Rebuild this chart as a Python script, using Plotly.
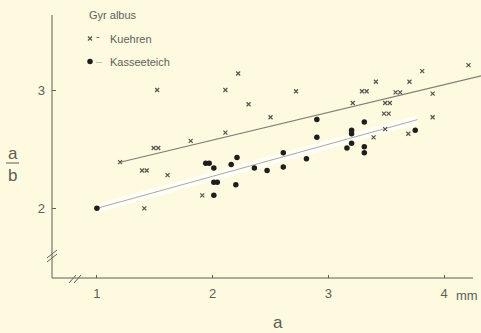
import plotly.graph_objects as go

# Gyr albus: ratio a/b against length a (mm)
kuehren_a = [1.52, 2.11, 2.22, 2.11, 1.81, 1.49, 1.53, 1.20, 1.39, 1.43, 1.61, 1.41, 1.91,
             2.31, 2.50, 2.72, 3.29, 3.33, 3.58, 3.62, 3.90, 4.21, 3.81, 3.41, 3.70, 3.21,
             3.49, 3.53, 3.48, 3.52, 3.90, 3.49, 3.39, 3.69]
kuehren_ab = [3.00, 3.00, 3.14, 2.64, 2.57, 2.51, 2.51, 2.39, 2.32, 2.32, 2.28, 2.00, 2.11,
              2.88, 2.77, 2.99, 2.99, 2.99, 2.98, 2.98, 2.97, 3.21, 3.16, 3.07, 3.07, 2.89,
              2.89, 2.89, 2.80, 2.80, 2.77, 2.67, 2.60, 2.63]

kasseeteich_a = [1.00, 1.94, 1.97, 2.01, 2.16, 2.21, 2.36, 2.47, 2.61, 2.61, 2.81, 2.90,
                 2.90, 3.31, 3.20, 3.20, 3.20, 3.16, 3.31, 3.31, 3.75, 2.01, 2.04, 2.20, 2.01]
kasseeteich_ab = [2.00, 2.38, 2.38, 2.34, 2.37, 2.43, 2.34, 2.32, 2.47, 2.35, 2.42, 2.75,
                  2.60, 2.73, 2.66, 2.63, 2.55, 2.51, 2.52, 2.47, 2.66, 2.22, 2.22, 2.20, 2.11]

# Fitted trend lines (end points)
fit_kuehren_a = [1.20, 4.32]
fit_kuehren_ab = [2.39, 3.12]
fit_kasse_a = [1.00, 3.77]
fit_kasse_ab = [2.00, 2.75]

x_ticks = [1, 2, 3, 4]
x_ticktext = ["1", "2", "3", "4"]
y_ticks = [2, 3]

ink = "#5e5e58"
paper = "#fdfadf"
font = "Liberation Sans"

W, H = 429, 278  # plot area size in px


def px(x):
    return (x - 52) / W


def py(y):
    return (278 - y) / H


fig = go.Figure()

# soft light streak along the lower trend line
fig.add_trace(go.Scatter(x=fit_kasse_a, y=fit_kasse_ab, mode="lines",
                         line=dict(color="rgba(255,255,255,0.75)", width=9),
                         hoverinfo="skip", showlegend=False))
fig.add_trace(go.Scatter(x=fit_kuehren_a, y=fit_kuehren_ab, mode="lines",
                         line=dict(color="#7d7d74", width=1.1),
                         hoverinfo="skip", showlegend=False))
fig.add_trace(go.Scatter(x=fit_kasse_a, y=fit_kasse_ab, mode="lines",
                         line=dict(color="#a9a9a0", width=1),
                         hoverinfo="skip", showlegend=False))

fig.add_trace(go.Scatter(x=kuehren_a, y=kuehren_ab, mode="markers", name="Kuehren",
                         marker=dict(symbol="x-thin", size=4, color="#555550",
                                     line=dict(width=1.2, color="#555550")),
                         legendgroup="k", legendrank=1))
fig.add_trace(go.Scatter(x=kasseeteich_a, y=kasseeteich_ab, mode="markers", name="Kasseeteich",
                         marker=dict(symbol="circle", size=5.5, color="#1e1e1c"),
                         legendgroup="c", legendrank=2))

shapes = [
    # axes
    dict(type="line", xref="paper", yref="paper", x0=0, x1=px(473), y0=0, y1=0,
         line=dict(color=ink, width=1)),
    dict(type="line", xref="paper", yref="paper", x0=0, x1=0, y0=0, y1=py(15),
         line=dict(color=ink, width=1)),
    # fraction bar of the y label
    dict(type="line", xref="paper", yref="paper", x0=px(6), x1=px(19),
         y0=py(163), y1=py(163), line=dict(color=ink, width=1)),
]
# axis break marks
for dy in (0, 4):
    shapes.append(dict(type="line", xref="paper", yref="paper",
                       x0=-5 / W, x1=5 / W,
                       y0=(20 - dy) / H, y1=(28 - dy) / H,
                       line=dict(color=ink, width=1)))
for dx in (0, 5):
    shapes.append(dict(type="line", xref="paper", yref="paper",
                       x0=(17 + dx) / W, x1=(24 + dx) / W,
                       y0=-5 / H, y1=3 / H,
                       line=dict(color=ink, width=1)))


def note(text, x, y, size, color=ink, anchor="center"):
    return dict(text=text, xref="paper", yref="paper", x=px(x), y=py(y),
                xanchor=anchor, yanchor="middle", showarrow=False,
                font=dict(family=font, size=size, color=color))


annotations = [
    note("mm", 454, 295, 13, anchor="left"),
    note("a", 278, 322, 17),
    note("a", 13, 153, 17),
    note("b", 12, 175, 17),
    note("Gyr albus", 87, 15, 11, anchor="left"),
    note("-", 98, 36, 11),
    note("_", 99, 57, 11, color="#b0b0a8"),
]

fig.update_layout(
    width=481, height=333,
    margin=dict(l=52, r=0, t=0, b=55),
    paper_bgcolor=paper, plot_bgcolor=paper,
    font=dict(family=font, color=ink),
    shapes=shapes, annotations=annotations,
    showlegend=True,
    legend=dict(x=px(70), y=py(24), xanchor="left", yanchor="top",
                bgcolor="rgba(0,0,0,0)", traceorder="grouped", tracegroupgap=4,
                font=dict(family=font, size=11, color=ink), itemwidth=30),
    xaxis=dict(range=[0.612, 4.318], showgrid=False, zeroline=False, showline=False,
               tickvals=x_ticks, ticktext=x_ticktext, ticks="inside", ticklen=3,
               tickcolor=ink, tickfont=dict(family=font, size=13, color=ink),
               ticklabelstandoff=6),
    yaxis=dict(range=[1.411, 3.761], showgrid=False, zeroline=False, showline=False,
               tickvals=y_ticks, ticks="inside", ticklen=4, tickcolor=ink,
               tickfont=dict(family=font, size=13, color=ink), ticklabelstandoff=6),
)

fig.write_html("out.html")
